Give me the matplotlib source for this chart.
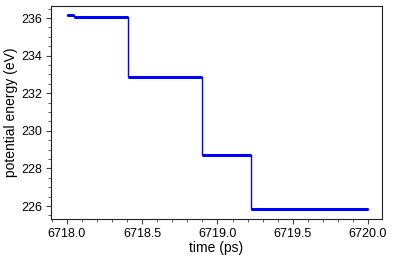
import matplotlib
matplotlib.use("Agg")
import matplotlib.pyplot as plt
from matplotlib.ticker import MultipleLocator

plt.rcParams['font.family'] = ['Liberation Sans', 'DejaVu Sans']

# edges of the plateaus (ps) and energy on each plateau (eV)
t_edges = [6718.0, 6718.05, 6718.405, 6718.90, 6719.22, 6720.0]
energy = [236.15, 236.07, 232.85, 228.72, 225.82]

fig = plt.figure(figsize=(3.94, 2.61), dpi=100)
ax = fig.add_axes([51/394, 1 - 219/261, 331/394, 213/261])

# step line: thin verticals, thick plateaus
xs, ys = [], []
for i, e in enumerate(energy):
    xs += [t_edges[i], t_edges[i + 1]]
    ys += [e, e]
ax.plot(xs, ys, color='#0000ff', lw=1)
for i, e in enumerate(energy):
    ax.plot([t_edges[i], t_edges[i + 1]], [e, e], color='#0000ff', lw=2.2,
            solid_capstyle='butt')

ax.set_xlim(6717.894, 6720.093)
ax.set_ylim(225.31, 236.64)
ax.xaxis.set_major_locator(MultipleLocator(0.5))
ax.xaxis.set_minor_locator(MultipleLocator(0.1))
ax.yaxis.set_major_locator(MultipleLocator(2))
ax.yaxis.set_minor_locator(MultipleLocator(0.5))
ax.xaxis.set_major_formatter(matplotlib.ticker.FormatStrFormatter('%.1f'))

ax.tick_params(which='both', direction='out', top=False, right=False,
               labelsize=9, color='#444444')
ax.tick_params(which='major', length=3.5, pad=3)
ax.tick_params(which='minor', length=2)
for s in ax.spines.values():
    s.set_color('#222222')
ax.set_xlabel('time (ps)', fontsize=10, labelpad=1)
ax.set_ylabel('potential energy (eV)', fontsize=10, labelpad=2)

fig.savefig('out.png', dpi=100)
